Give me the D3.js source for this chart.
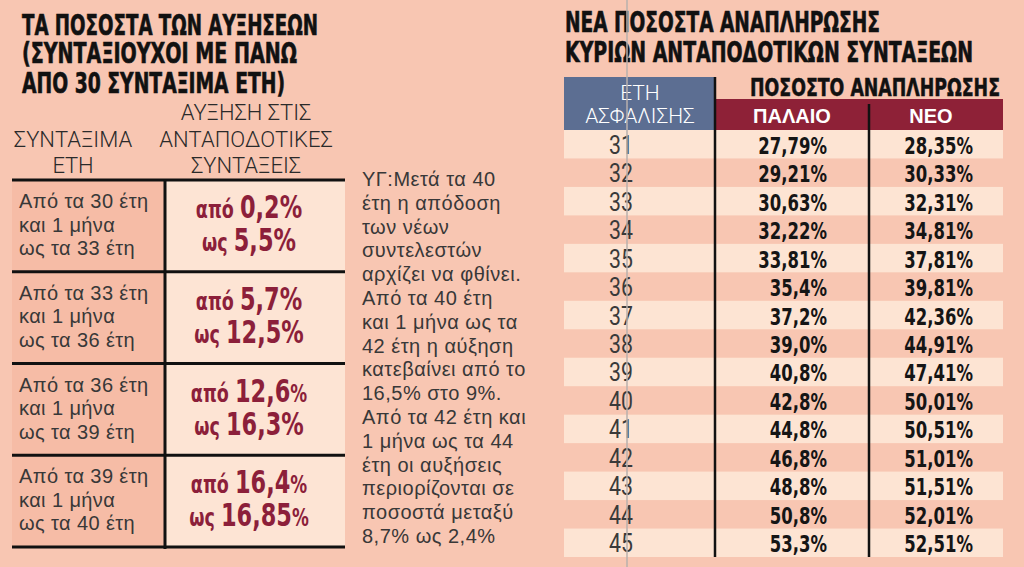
<!DOCTYPE html>
<html>
<head>
<meta charset="utf-8">
<script src="https://cdn.jsdelivr.net/npm/d3@7"></script>
<style>
  html, body { margin: 0; padding: 0; background: #f8c6b2; }
  svg { display: block; }
</style>
</head>
<body>
<svg id="canvas" width="1024" height="567"></svg>
<script>
// Αριστερός πίνακας: αυξήσεις ανά διάστημα ετών
const apoEti = [30, 33, 36, 39];
const eosEti = [33, 36, 39, 40];
const auxisiApo = ["0,2", "5,7", "12,6", "16,4"];
const auxisiEos = ["5,5", "12,5", "16,3", "16,85"];
const mikroPososto1 = [false, false, true, true];
const mikroPososto2 = [false, false, false, true];

// Δεξιός πίνακας: ποσοστά αναπλήρωσης
const etiAsfalisis = [31, 32, 33, 34, 35, 36, 37, 38, 39, 40, 41, 42, 43, 44, 45];
const palaio = ["27,79%", "29,21%", "30,63%", "32,22%", "33,81%", "35,4%", "37,2%", "39,0%",
                "40,8%", "42,8%", "44,8%", "46,8%", "48,8%", "50,8%", "53,3%"];
const neo = ["28,35%", "30,33%", "32,31%", "34,81%", "37,81%", "39,81%", "42,36%", "44,91%",
             "47,41%", "50,01%", "50,51%", "51,01%", "51,51%", "52,01%", "52,51%"];

const simeiosi = [
    "ΥΓ:Μετά τα 40",
    "έτη η απόδοση",
    "των νέων",
    "συντελεστών",
    "αρχίζει να φθίνει.",
    "Από τα 40 έτη",
    "και 1 μήνα ως τα",
    "42 έτη η αύξηση",
    "κατεβαίνει από το",
    "16,5% στο 9%.",
    "Από τα 42 έτη και",
    "1 μήνα ως τα 44",
    "έτη οι αυξήσεις",
    "περιορίζονται σε",
    "ποσοστά μεταξύ",
    "8,7% ως 2,4%"
];

const svg = d3.select("#canvas");
const heavy = "'DejaVu Sans Condensed', 'DejaVu Sans', sans-serif";
const light = "Roboto, 'Liberation Sans', sans-serif";
const plain = "'Liberation Sans', Arial, 'DejaVu Sans', sans-serif";
const kokkino = "#8c1f3a";
const grizo = "#383838";
const stenoma = 0.78; // οριζόντια συμπίεση για στενή γραμματοσειρά

svg.append("rect").attr("width", 1024).attr("height", 567).attr("fill", "#f8c6b2");

// ---------- Τίτλοι ----------
function titlos(x, y, txt, len, size) {
    svg.append("text")
        .attr("x", x).attr("y", y)
        .attr("font-family", heavy)
        .attr("font-weight", 700)
        .attr("font-size", size || 28)
        .attr("fill", "#111")
        .attr("stroke", "#111").attr("stroke-width", 0.6)
        .attr("textLength", len)
        .attr("lengthAdjust", "spacingAndGlyphs")
        .text(txt);
}
titlos(22, 35, "ΤΑ ΠΟΣΟΣΤΑ ΤΩΝ ΑΥΞΗΣΕΩΝ", 296);
titlos(22, 63, "(ΣΥΝΤΑΞΙΟΥΧΟΙ ΜΕ ΠΑΝΩ", 275);
titlos(22, 93, "ΑΠΟ 30 ΣΥΝΤΑΞΙΜΑ ΕΤΗ)", 263);
titlos(565, 32, "ΝΕΑ ΠΟΣΟΣΤΑ ΑΝΑΠΛΗΡΩΣΗΣ", 315);
titlos(565, 62, "ΚΥΡΙΩΝ  ΑΝΤΑΠΟΔΟΤΙΚΩΝ ΣΥΝΤΑΞΕΩΝ", 408);

// ---------- Αριστερός πίνακας ----------
const headL = [
    { x: 73, y: 147, t: "ΣΥΝΤΑΞΙΜΑ" }, { x: 73, y: 173, t: "ΕΤΗ" },
    { x: 246, y: 120, t: "ΑΥΞΗΣΗ ΣΤΙΣ" }, { x: 246, y: 147, t: "ΑΝΤΑΠΟΔΟΤΙΚΕΣ" },
    { x: 246, y: 173, t: "ΣΥΝΤΑΞΕΙΣ" }
];
svg.selectAll(".headL").data(headL).enter().append("text")
    .attr("x", d => d.x).attr("y", d => d.y)
    .attr("text-anchor", "middle")
    .attr("font-family", light)
    .attr("font-weight", 300)
    .attr("font-size", 22)
    .attr("fill", "#2a2a2a")
    .text(d => d.t);

const yL = d3.scaleBand().domain(d3.range(apoEti.length)).range([180, 547]);
const xL = d3.scaleOrdinal().domain(["eti", "auxisi", "telos"]).range([12, 165, 345]);

const rowsL = svg.selectAll(".rowL").data(apoEti).enter().append("g")
    .attr("transform", (d, i) => `translate(0,${yL(i)})`);

rowsL.append("rect")
    .attr("x", xL("eti")).attr("width", xL("auxisi") - xL("eti"))
    .attr("height", yL.bandwidth()).attr("fill", "#f6bca6");
rowsL.append("rect")
    .attr("x", xL("auxisi")).attr("width", xL("telos") - xL("auxisi"))
    .attr("height", yL.bandwidth()).attr("fill", "#fde4d4");

rowsL.each(function (d, i) {
    const g = d3.select(this);
    const lines = [`Από τα ${apoEti[i]} έτη`, "και 1 μήνα", `ως τα ${eosEti[i]} έτη`];
    lines.forEach((t, k) => {
        g.append("text")
            .attr("x", 19).attr("y", 28 + k * 23.5)
            .attr("font-family", plain)
            .attr("font-size", 20)
            .attr("letter-spacing", 0.4)
            .attr("fill", grizo)
            .text(t);
    });

    const parts = [
        { lex: "από", num: auxisiApo[i], small: mikroPososto1[i], y: 38 },
        { lex: "ως", num: auxisiEos[i], small: mikroPososto2[i], y: 71 }
    ];
    parts.forEach(p => {
        const t = g.append("text")
            .attr("transform", `translate(249,${p.y}) scale(${stenoma},1)`)
            .attr("text-anchor", "middle")
            .attr("font-family", heavy)
            .attr("font-weight", 700)
            .attr("fill", kokkino);
        t.append("tspan").attr("font-size", 25).text(p.lex + " ");
        t.append("tspan").attr("font-size", 32).text(p.num);
        t.append("tspan").attr("font-size", p.small ? 24 : 32).text("%");
    });
});

// γραμμές αριστερού πίνακα
svg.selectAll(".hlineL").data(d3.range(apoEti.length + 1)).enter().append("line")
    .attr("x1", xL("eti")).attr("x2", xL("telos"))
    .attr("y1", i => i < apoEti.length ? yL(i) : yL.range()[1])
    .attr("y2", i => i < apoEti.length ? yL(i) : yL.range()[1])
    .attr("stroke", "#111").attr("stroke-width", 3);
svg.append("line")
    .attr("x1", xL("auxisi")).attr("x2", xL("auxisi"))
    .attr("y1", 180).attr("y2", 549)
    .attr("stroke", "#111").attr("stroke-width", 3);

// ---------- Σημείωση ----------
svg.selectAll(".note").data(simeiosi).enter().append("text")
    .attr("x", 362).attr("y", (d, i) => 186 + i * 23.8)
    .attr("font-family", plain)
    .attr("font-size", 20)
    .attr("letter-spacing", 0.5)
    .attr("fill", grizo)
    .text(d => d);

// ---------- Δεξιός πίνακας ----------
const yR = d3.scaleBand().domain(etiAsfalisis).range([130, 557]);
const xR = d3.scaleOrdinal().domain(["arxi", "eti", "palaio", "neo", "telos"])
    .range([564, 640, 715, 869, 1003]);

svg.selectAll(".rowR").data(etiAsfalisis.filter((d, i) => i % 2 === 0)).enter().append("rect")
    .attr("x", xR("arxi")).attr("width", xR("telos") - xR("arxi"))
    .attr("y", d => yR(d)).attr("height", yR.bandwidth())
    .attr("fill", "#fde4d3");

// κεφαλίδες
svg.append("rect")
    .attr("x", xR("arxi")).attr("y", 77)
    .attr("width", xR("palaio") - xR("arxi")).attr("height", 53)
    .attr("fill", "#5c6e92");
svg.append("rect")
    .attr("x", xR("palaio")).attr("y", 99)
    .attr("width", xR("telos") - xR("palaio")).attr("height", 31)
    .attr("fill", "#8e2137");

[{ y: 100, t: "ΕΤΗ" }, { y: 123, t: "ΑΣΦΑΛΙΣΗΣ" }].forEach(h => {
    svg.append("text")
        .attr("x", xR("eti")).attr("y", h.y)
        .attr("text-anchor", "middle")
        .attr("font-family", light)
        .attr("font-weight", 300)
        .attr("font-size", 21)
        .attr("fill", "#fff")
        .text(h.t);
});
svg.append("text")
    .attr("x", 750).attr("y", 96)
    .attr("font-family", heavy)
    .attr("font-weight", 700)
    .attr("font-size", 25)
    .attr("fill", "#111")
    .attr("stroke", "#111").attr("stroke-width", 0.5)
    .attr("textLength", 250)
    .attr("lengthAdjust", "spacingAndGlyphs")
    .text("ΠΟΣΟΣΤΟ ΑΝΑΠΛΗΡΩΣΗΣ");
[{ x: 792, t: "ΠΑΛΑΙΟ" }, { x: 931, t: "ΝΕΟ" }].forEach(h => {
    svg.append("text")
        .attr("x", h.x).attr("y", 123)
        .attr("text-anchor", "middle")
        .attr("font-family", plain)
        .attr("font-weight", 700)
        .attr("font-size", 20)
        .attr("fill", "#fff")
        .text(h.t);
});

// τιμές
const cy = d => yR(d) + yR.bandwidth() / 2 + 9.5;
svg.selectAll(".eti").data(etiAsfalisis).enter().append("text")
    .attr("transform", d => `translate(621,${cy(d)}) scale(0.85,1)`)
    .attr("text-anchor", "middle")
    .attr("font-family", light)
    .attr("font-weight", 400)
    .attr("font-size", 25)
    .attr("fill", "#3a3a3a")
    .text(d => d);
svg.selectAll(".palaio").data(etiAsfalisis).enter().append("text")
    .attr("transform", d => `translate(827,${cy(d)}) scale(${stenoma},1)`)
    .attr("text-anchor", "end")
    .attr("font-family", heavy)
    .attr("font-weight", 700)
    .attr("font-size", 23.5)
    .attr("fill", "#151515")
    .text((d, i) => palaio[i]);
svg.selectAll(".neo").data(etiAsfalisis).enter().append("text")
    .attr("transform", d => `translate(973,${cy(d)}) scale(${stenoma},1)`)
    .attr("text-anchor", "end")
    .attr("font-family", heavy)
    .attr("font-weight", 700)
    .attr("font-size", 23.5)
    .attr("fill", "#151515")
    .text((d, i) => neo[i]);

// κάθετες γραμμές
svg.append("line")
    .attr("x1", xR("palaio")).attr("x2", xR("palaio"))
    .attr("y1", 77).attr("y2", 557)
    .attr("stroke", "#111").attr("stroke-width", 2.5);
svg.append("line")
    .attr("x1", xR("neo")).attr("x2", xR("neo"))
    .attr("y1", 104).attr("y2", 557)
    .attr("stroke", "#111").attr("stroke-width", 2.5);

// λεπτή γκρι γραμμή σελιδοποίησης
svg.append("line")
    .attr("x1", 627).attr("x2", 627)
    .attr("y1", 0).attr("y2", 567)
    .attr("stroke", "#b8b0ac").attr("stroke-width", 1.5);
</script>
</body>
</html>
